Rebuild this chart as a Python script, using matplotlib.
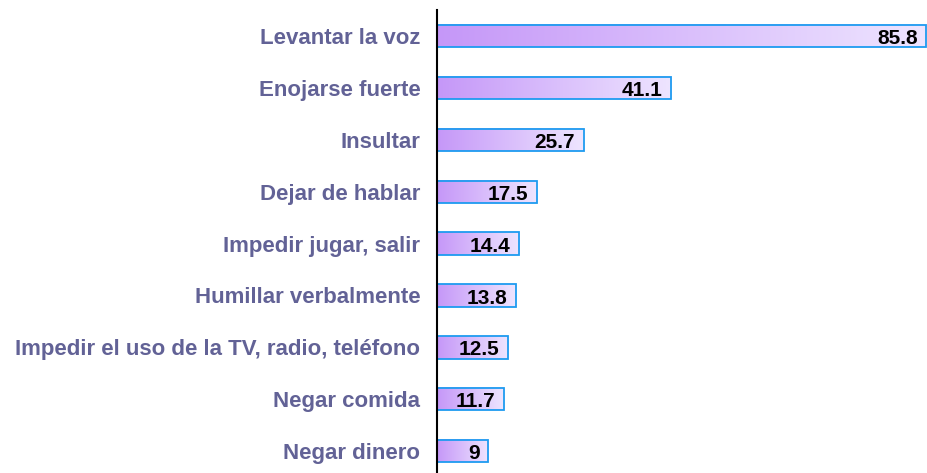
import matplotlib
matplotlib.use("Agg")
import matplotlib.pyplot as plt
import matplotlib.patches as patches
from matplotlib.colors import LinearSegmentedColormap
import numpy as np

# data
categories = [
    "Levantar la voz",
    "Enojarse fuerte",
    "Insultar",
    "Dejar de hablar",
    "Impedir jugar, salir",
    "Humillar verbalmente",
    "Impedir el uso de la TV, radio, teléfono",
    "Negar comida",
    "Negar dinero",
]
values = [85.8, 41.1, 25.7, 17.5, 14.4, 13.8, 12.5, 11.7, 9]
value_labels = ["85.8", "41.1", "25.7", "17.5", "14.4", "13.8", "12.5", "11.7", "9"]

# style
C_LABEL = "#626296"
C_EDGE = "#1E9BF0"
BAR_H = 0.43
grad = LinearSegmentedColormap.from_list("bar", ["#C597F8", "#EEE5FF"])

plt.rcParams["font.family"] = ["Liberation Sans", "DejaVu Sans"]

fig = plt.figure(figsize=(9.27, 4.73), dpi=100, facecolor="white")
ax = fig.add_axes([437 / 927, 0.0, 1 - 437 / 927, 1 - 10 / 473])

g = np.linspace(0, 1, 256).reshape(1, -1)
for i, v in enumerate(values):
    y0, y1 = i - BAR_H / 2, i + BAR_H / 2
    # gradient fill, then the blue outline on top
    ax.imshow(g, cmap=grad, aspect="auto", extent=(0, v, y1, y0),
              interpolation="bicubic", zorder=2)
    ax.add_patch(patches.Rectangle((0, y0), v, BAR_H, facecolor="none",
                                   edgecolor=C_EDGE, linewidth=1.3, zorder=3))
    ax.text(v - 1.5, i + 0.05, value_labels[i], ha="right", va="center",
            fontsize=15, fontweight="bold", color="black", zorder=4)

ax.set_xlim(0, 85.9)
ax.set_ylim(8.42, -0.5)
ax.set_yticks(range(len(categories)))
ax.set_yticklabels(categories, fontsize=16, fontweight="bold", color=C_LABEL)
ax.tick_params(axis="y", length=0, pad=12)
ax.set_xticks([])
for s in ["top", "right", "bottom"]:
    ax.spines[s].set_visible(False)
ax.spines["left"].set_linewidth(1.5)
ax.spines["left"].set_color("black")
ax.spines["left"].set_zorder(5)

fig.savefig("out.png", dpi=100, facecolor="white")
